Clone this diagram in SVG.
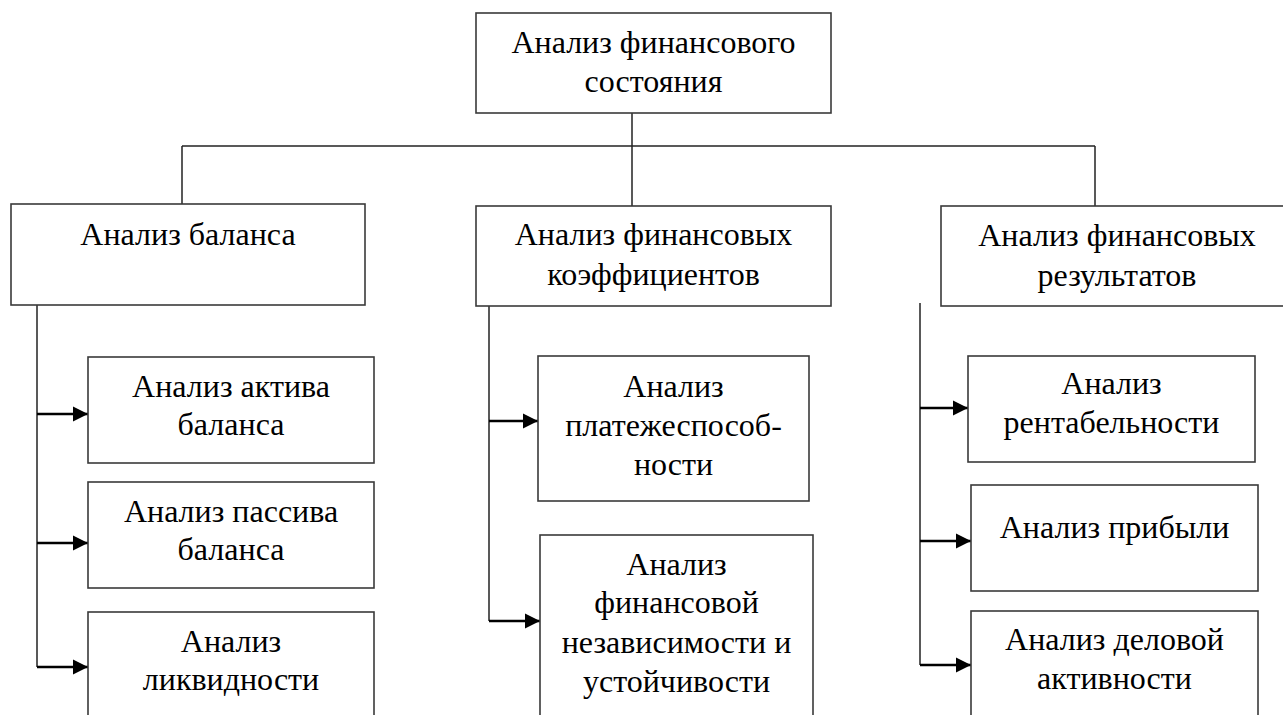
<svg xmlns="http://www.w3.org/2000/svg" width="1283" height="715" viewBox="0 0 1283 715">
<style>
.box{fill:#fff;stroke:#3a3a3a;stroke-width:1.6}
.t{font-family:"Liberation Serif","Times New Roman",serif;font-size:32px;fill:#000;text-anchor:middle}
.ln{fill:none;stroke:#222;stroke-width:1.5}
.ar{fill:none;stroke:#000;stroke-width:2.6;marker-end:url(#ah)}
</style>
<defs>
<marker id="ah" markerUnits="userSpaceOnUse" markerWidth="18" markerHeight="18" refX="15" refY="8" orient="auto">
<path d="M0,0.5 L15,8 L0,15.5 Z" fill="#000"/>
</marker>
</defs>
<rect width="1283" height="715" fill="#fff"/>
<g id="connectors">
<path class="ln" d="M632,113 V207"/>
<path class="ln" d="M182,146 H1095"/>
<path class="ln" d="M182,146 V204"/>
<path class="ln" d="M1095,146 V206"/>
<path class="ln" d="M37,305 V667"/>
<path class="ln" d="M489,306 V621"/>
<path class="ln" d="M920,303 V665"/>
<path class="ar" d="M37,414 H88"/>
<path class="ar" d="M37,543 H88"/>
<path class="ar" d="M37,667 H88"/>
<path class="ar" d="M489,421 H538"/>
<path class="ar" d="M489,621 H540"/>
<path class="ar" d="M920,408 H968"/>
<path class="ar" d="M920,541 H971"/>
<path class="ar" d="M920,665 H971"/>
</g>
<g id="root">
<rect class="box" x="476" y="13" width="355" height="100"/>
<text class="t" x="653.5" y="53">Анализ финансового</text>
<text class="t" x="653.5" y="92">состояния</text>
</g>
<g id="balance">
<rect class="box" x="11" y="204" width="354" height="101"/>
<text class="t" x="188" y="245">Анализ баланса</text>
</g>
<g id="ratios">
<rect class="box" x="476" y="206" width="355" height="100"/>
<text class="t" x="653.5" y="245">Анализ финансовых</text>
<text class="t" x="653.5" y="285">коэффициентов</text>
</g>
<g id="results">
<rect class="box" x="941" y="206" width="352" height="100"/>
<text class="t" x="1117" y="246">Анализ финансовых</text>
<text class="t" x="1117" y="286">результатов</text>
</g>
<g id="assets">
<rect class="box" x="88" y="357" width="286" height="106"/>
<text class="t" x="231" y="397">Анализ актива</text>
<text class="t" x="231" y="435">баланса</text>
</g>
<g id="liabilities">
<rect class="box" x="88" y="482" width="286" height="106"/>
<text class="t" x="231" y="522">Анализ пассива</text>
<text class="t" x="231" y="560">баланса</text>
</g>
<g id="liquidity">
<rect class="box" x="88" y="612" width="286" height="120"/>
<text class="t" x="231" y="652">Анализ</text>
<text class="t" x="231" y="690">ликвидности</text>
</g>
<g id="solvency">
<rect class="box" x="538" y="356" width="271" height="145"/>
<text class="t" x="673.5" y="397">Анализ</text>
<text class="t" x="673.5" y="436">платежеспособ-</text>
<text class="t" x="673.5" y="475">ности</text>
</g>
<g id="independence">
<rect class="box" x="540" y="535" width="273" height="200"/>
<text class="t" x="676.5" y="575">Анализ</text>
<text class="t" x="676.5" y="613">финансовой</text>
<text class="t" x="676.5" y="653">независимости и</text>
<text class="t" x="676.5" y="692">устойчивости</text>
</g>
<g id="profitability">
<rect class="box" x="968" y="356" width="287" height="106"/>
<text class="t" x="1111.5" y="394">Анализ</text>
<text class="t" x="1111.5" y="433">рентабельности</text>
</g>
<g id="profit">
<rect class="box" x="971" y="485" width="287" height="106"/>
<text class="t" x="1114.5" y="538">Анализ прибыли</text>
</g>
<g id="activity">
<rect class="box" x="971" y="611" width="287" height="120"/>
<text class="t" x="1114.5" y="650">Анализ деловой</text>
<text class="t" x="1114.5" y="689">активности</text>
</g>
</svg>
